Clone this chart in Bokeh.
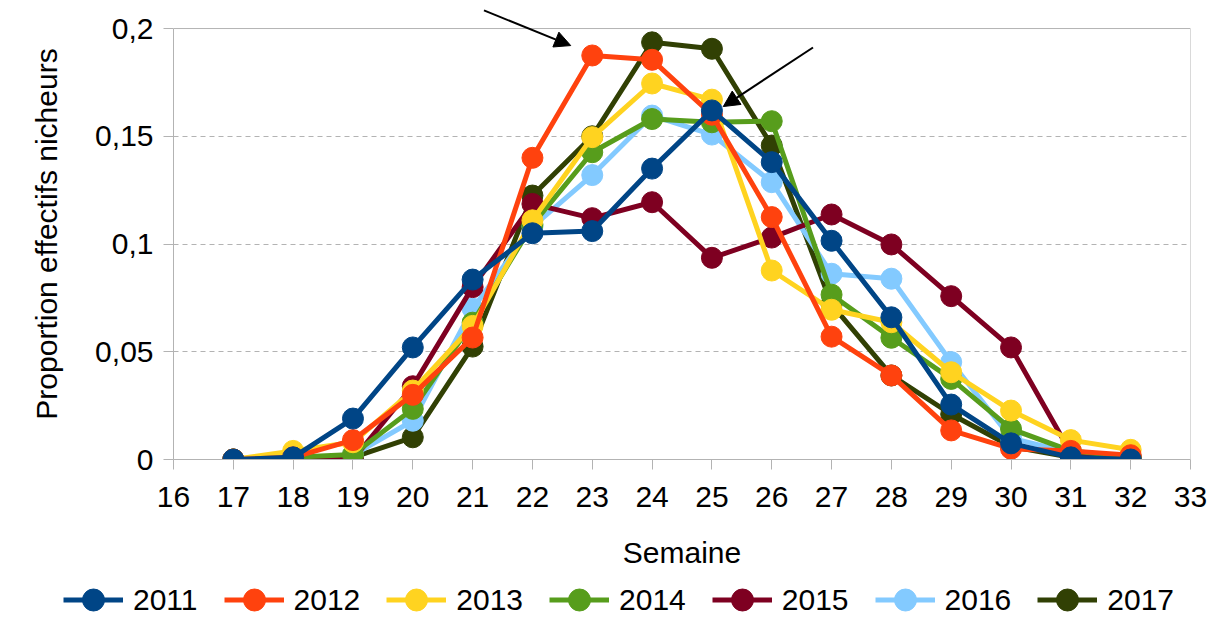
from bokeh.plotting import figure
from bokeh.models import (ColumnDataSource, FixedTicker, Legend, LegendItem, Arrow,
                          NormalHead, Range1d, Span)
from bokeh.embed import file_html
from bokeh.resources import INLINE

weeks = list(range(17, 33))
years = ["2011", "2012", "2013", "2014", "2015", "2016", "2017"]
colors = ["#004586", "#ff420e", "#ffd320", "#579d1c", "#7e0021", "#83caff", "#314004"]

s2011 = [0.0, 0.001, 0.019, 0.052, 0.0835, 0.105, 0.106, 0.135, 0.162, 0.138, 0.1015, 0.066, 0.0255, 0.0075, 0.001, 0.0]
s2012 = [0.0, 0.001, 0.009, 0.030, 0.0566, 0.140, 0.1875, 0.1855, 0.160, 0.1125, 0.057, 0.039, 0.0135, 0.005, 0.004, 0.002]
s2013 = [0.0, 0.004, 0.008, 0.032, 0.062, 0.111, 0.1496, 0.1745, 0.167, 0.0877, 0.0695, 0.0637, 0.0405, 0.0227, 0.009, 0.0045]
s2014 = [0.0, 0.001, 0.0023, 0.0235, 0.0635, 0.109, 0.1426, 0.158, 0.1565, 0.157, 0.0765, 0.0565, 0.0374, 0.0142, 0.004, 0.001]
s2015 = [0.0, 0.0, 0.0, 0.034, 0.080, 0.1186, 0.112, 0.1194, 0.0936, 0.103, 0.1137, 0.0998, 0.0758, 0.052, 0.003, 0.001]
s2016 = [0.0, 0.0, 0.002, 0.018, 0.070, 0.108, 0.132, 0.1596, 0.1508, 0.1287, 0.0862, 0.0839, 0.0452, 0.010, 0.003, 0.001]
s2017 = [0.0, 0.0, 0.001, 0.0103, 0.0524, 0.1225, 0.150, 0.1936, 0.1906, 0.1457, 0.072, 0.039, 0.021, 0.006, 0.001, 0.0]
series = [s2011, s2012, s2013, s2014, s2015, s2016, s2017]

y_ticks = [0, 0.05, 0.1, 0.15, 0.2]
y_tick_labels = ["0", "0,05", "0,1", "0,15", "0,2"]
x_ticks = list(range(16, 34))

FONT = "Liberation Sans"
FS = "30px"

p = figure(width=1219, height=572, output_backend="svg", toolbar_location=None,
           x_range=Range1d(16, 33), y_range=Range1d(0, 0.2093),
           min_border_left=173, min_border_right=29, min_border_top=8, min_border_bottom=113)
p.background_fill_color = "white"
p.border_fill_color = "white"
p.outline_line_color = None

p.xgrid.visible = False
p.ygrid.grid_line_color = "#b3b3b3"
p.ygrid.grid_line_dash = "5 4"
p.ygrid.grid_line_width = 1

p.xaxis.ticker = FixedTicker(ticks=x_ticks)
p.yaxis.ticker = FixedTicker(ticks=y_ticks)
p.yaxis.major_label_overrides = {t: l for t, l in zip(y_ticks, y_tick_labels)}
p.ygrid.ticker = FixedTicker(ticks=[0.05, 0.1, 0.15])
p.yaxis.bounds = (0, 0.2)

for ax in (p.xaxis, p.yaxis):
    ax.axis_line_color = "#b3b3b3"
    ax.major_tick_line_color = "#b3b3b3"
    ax.minor_tick_line_color = None
    ax.major_tick_out = 10
    ax.major_tick_in = 0
    ax.major_label_text_font = FONT
    ax.major_label_text_font_size = FS
    ax.major_label_text_color = "black"
    ax.axis_label_text_font = FONT
    ax.axis_label_text_font_size = FS
    ax.axis_label_text_font_style = "normal"
    ax.axis_label_text_color = "black"

p.xaxis.axis_label = "Semaine"
p.yaxis.axis_label = "Proportion effectifs nicheurs"
p.xaxis.major_label_standoff = 17
p.xaxis.axis_label_standoff = 26
p.yaxis.major_label_standoff = 10
p.yaxis.axis_label_standoff = 29

# plot-area border (top at 0.2 and right edge)
p.add_layout(Span(location=0.2, dimension="width", line_color="#b3b3b3", line_width=1))
p.segment(x0=[33], y0=[0], x1=[33], y1=[0.2], line_color="#b3b3b3", line_width=1)

for yr, col, vals in reversed(list(zip(years, colors, series))):
    src = ColumnDataSource(dict(x=weeks, y=vals))
    p.line("x", "y", source=src, line_color=col, line_width=5)
    p.scatter("x", "y", source=src, size=21, fill_color=col, line_color=col)

# annotation arrows
arrow_x0 = [21.19, 26.69]
arrow_y0 = [0.2084, 0.1912]
arrow_x1 = [22.64, 25.19]
arrow_y1 = [0.1921, 0.1638]
for xs, ys, xe, ye in zip(arrow_x0, arrow_y0, arrow_x1, arrow_y1):
    p.add_layout(Arrow(x_start=xs, y_start=ys, x_end=xe, y_end=ye, line_width=2,
                       line_color="black",
                       end=NormalHead(size=16, fill_color="black", line_color="black")))

# legend strip below the chart (series renderers kept out of view, only the legend shows)
lg = figure(width=1219, height=55, output_backend="svg", toolbar_location=None,
            x_axis_location=None, y_axis_location=None,
            min_border_left=0, min_border_right=0, min_border_top=0, min_border_bottom=0,
            x_range=Range1d(100, 101), y_range=Range1d(100, 101))
lg.grid.visible = False
lg.outline_line_color = None
lg.background_fill_color = "white"
lg.border_fill_color = "white"

leg_items = []
for yr, col, vals in zip(years, colors, series):
    src = ColumnDataSource(dict(x=weeks, y=vals))
    r1 = lg.line("x", "y", source=src, line_color=col, line_width=5)
    r2 = lg.scatter("x", "y", source=src, size=21, fill_color=col, line_color=col)
    leg_items.append(LegendItem(label=yr, renderers=[r1, r2]))

legend = Legend(items=leg_items, orientation="horizontal", location=(63, 0))
legend.label_text_font = FONT
legend.label_text_font_size = FS
legend.label_text_color = "black"
legend.label_text_baseline = "middle"
legend.glyph_width = 60
legend.glyph_height = 55
legend.label_height = 30
legend.label_standoff = 10
legend.spacing = 26
legend.padding = 0
legend.margin = 0
legend.border_line_color = None
legend.background_fill_alpha = 0
lg.add_layout(legend, "center")

open("out.html", "w").write(file_html([p, lg], INLINE))
